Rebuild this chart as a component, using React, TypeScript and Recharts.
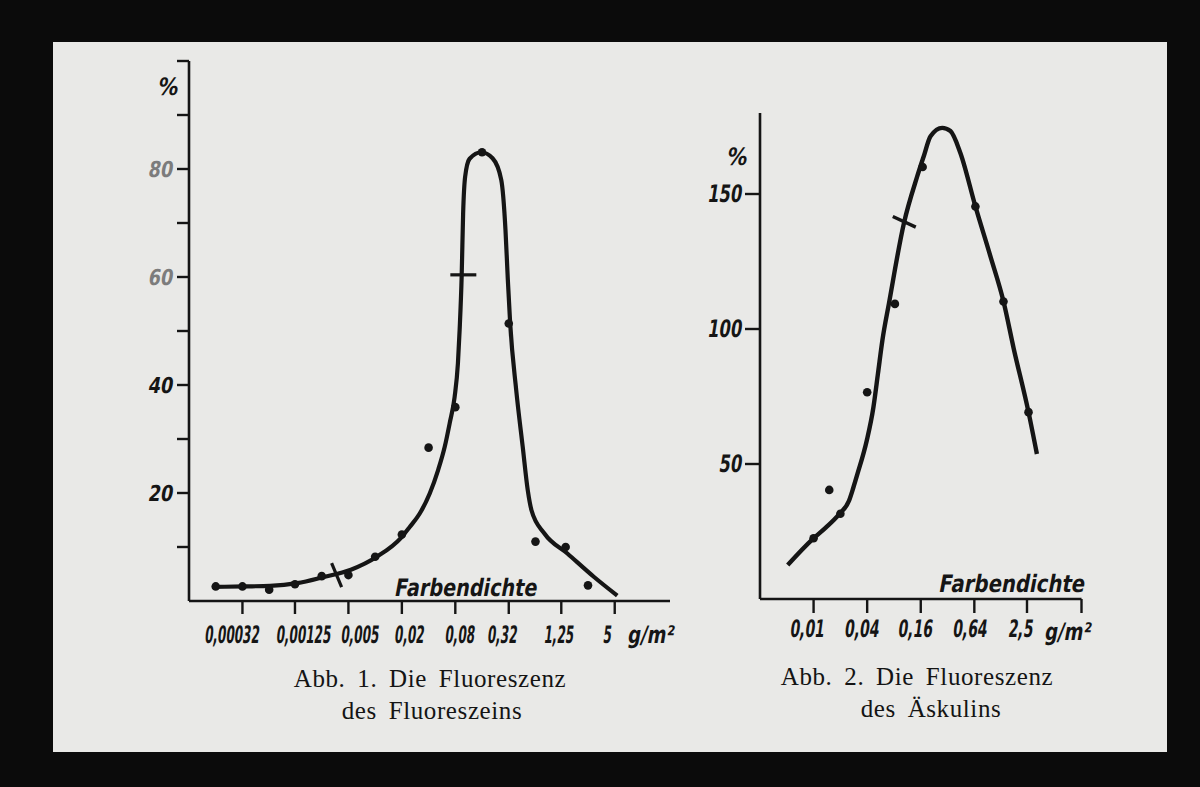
import React from "react";
import { ComposedChart, Line, Scatter, XAxis, YAxis } from "recharts";

const INK = "#151515";
const PAPER = "#e9e9e7";
const HAND = "'DejaVu Sans', Verdana, sans-serif";
const SERIF = "'Liberation Serif', 'DejaVu Serif', serif";

// Abb. 1 – Fluoreszein (Farbendichte g/m², Fluoreszenz %)
const fluoXTicks = [0.00032, 0.00125, 0.005, 0.02, 0.08, 0.32, 1.25, 5];
const fluoXLabels = ["0,00032", "0,00125", "0,005", "0,02", "0,08", "0,32", "1,25", "5"];
const fluoYTicks = [10, 20, 30, 40, 50, 60, 70, 80, 90, 100];
const fluoYLabels = ["", "20", "", "40", "", "60", "", "80", "", ""];

const fluoPointC = [0.00016, 0.00032, 0.00064, 0.00125, 0.0025, 0.005, 0.01, 0.02, 0.04, 0.08, 0.16, 0.32, 0.64, 1.4, 2.5];
const fluoPointV = [2.7, 2.7, 2.1, 3.1, 4.6, 4.8, 8.2, 12.3, 28.4, 35.9, 83.1, 51.4, 11.0, 10.0, 2.9];

const fluoCurveC = [0.000146, 0.000334, 0.000655, 0.00132, 0.00258, 0.00533, 0.01045, 0.0198, 0.0245, 0.0318, 0.0412, 0.0511, 0.0607, 0.0691, 0.0786, 0.0856, 0.0895, 0.0944, 0.098, 0.1033, 0.1159, 0.157, 0.2103, 0.2634, 0.294, 0.3124, 0.332, 0.388, 0.46, 0.524, 0.577, 0.807, 1.464, 2.948, 5.34];
const fluoCurveV = [2.6, 2.7, 2.8, 3.3, 4.4, 5.8, 8.2, 11.8, 13.7, 16.2, 19.9, 24.2, 28.5, 32.9, 37.8, 44.0, 50.2, 60.3, 71.8, 78.6, 81.9, 83.1, 82.0, 78.0, 68.7, 59.5, 51.4, 39.1, 28.5, 20.5, 16.8, 12.5, 8.8, 4.4, 1.0];

// marks on the curve
const fluoCrossC = [0.00368];
const fluoCrossV = [4.8];
const fluoDashC = [0.0985];
const fluoDashV = [60.4];

// Abb. 2 – Äskulin
const aesXTicks = [0.01, 0.04, 0.16, 0.64, 2.5, 10.24];
const aesXLabels = ["0,01", "0,04", "0,16", "0,64", "2,5", ""];
const aesYTicks = [50, 100, 150];
const aesYLabels = ["50", "100", "150"];

const aesPointC = [0.01, 0.015, 0.02, 0.04, 0.082, 0.168, 0.658, 1.36, 2.6];
const aesPointV = [22.5, 40.4, 31.6, 76.6, 109.3, 160, 145.4, 110.2, 69.2];

const aesCurveC = [0.00512, 0.0097, 0.0137, 0.0194, 0.025, 0.028, 0.0311, 0.0396, 0.047, 0.0529, 0.0593, 0.0703, 0.1035, 0.146, 0.173, 0.206, 0.279, 0.345, 0.446, 0.658, 0.969, 1.364, 1.766, 2.6, 3.23];
const aesCurveV = [12.6, 22.1, 26.4, 31.4, 36.4, 41.3, 46.3, 58.7, 71.0, 83.5, 95.8, 109.5, 139.2, 156.5, 164, 171.4, 174.5, 173.3, 165.2, 145.4, 127, 110.1, 93, 69.2, 53.7];

const aesDashC = [0.1045];
const aesDashV = [139.7];

const zip = (c: number[], v: number[]) => c.map((x, i) => ({ c: x, v: v[i] }));

function HandText({ x, y, text, size = 24, sx = 0.6, anchor = "middle", fill = INK }: any) {
  return (
    <g transform={`translate(${x},${y}) scale(${sx},1) skewX(-13)`}>
      <text x={0} y={0} textAnchor={anchor} fontFamily={HAND} fontWeight="bold" fontSize={size} fill={fill}>
        {text}
      </text>
    </g>
  );
}

// hand-lettered labels do not sit exactly centred under their ticks
function makeXTick(values: number[], labels: string[], nudge: number[], dy: number, sx: number) {
  return (props: any) => {
    const { x, y, payload } = props;
    const i = values.indexOf(payload.value);
    if (i < 0 || !labels[i]) return <g />;
    return <HandText x={x + (nudge[i] || 0)} y={y + dy} text={labels[i]} sx={sx} />;
  };
}

function makeYTick(values: number[], labels: string[], size: number, sx: number, grey: number) {
  return (props: any) => {
    const { x, y, payload } = props;
    const i = values.indexOf(payload.value);
    if (i < 0 || !labels[i]) return <g />;
    const fill = payload.value >= grey ? "#7c7c7c" : INK;
    return <HandText x={x} y={y + 8} text={labels[i]} size={size} sx={sx} anchor="end" fill={fill} />;
  };
}

const dot = (p: any) => <circle cx={p.cx} cy={p.cy} r={4.3} fill={INK} />;
const crossMark = (p: any) => (
  <line x1={p.cx - 5} y1={p.cy - 12} x2={p.cx + 5} y2={p.cy + 12} stroke={INK} strokeWidth={3.2} />
);
const flatDash = (p: any) => (
  <line x1={p.cx - 13} y1={p.cy} x2={p.cx + 13} y2={p.cy} stroke={INK} strokeWidth={3.2} />
);
const tiltDash = (p: any) => (
  <line x1={p.cx - 11.5} y1={p.cy - 5.3} x2={p.cx + 11.5} y2={p.cy + 5.3} stroke={INK} strokeWidth={3.4} />
);

const axisStyle = { stroke: INK, strokeWidth: 2.6 };
const tickStyle = { stroke: INK, strokeWidth: 2.4 };

function FluoChart() {
  const nudge = [-11, 8, 11, 7, 4, -7, -3, -8];
  return (
    <div style={{ position: "absolute", left: 100, top: 40 }}>
      <ComposedChart width={600} height={640} margin={{ top: 21, right: 30, left: 39, bottom: 29 }}>
        <XAxis
          dataKey="c"
          type="number"
          scale="log"
          domain={[0.00008, 20.97]}
          ticks={fluoXTicks}
          interval={0}
          allowDataOverflow
          height={50}
          tickSize={13}
          axisLine={axisStyle}
          tickLine={tickStyle}
          tick={makeXTick(fluoXTicks, fluoXLabels, nudge, 27, 0.5)}
        />
        <YAxis
          dataKey="v"
          type="number"
          domain={[0, 100]}
          ticks={fluoYTicks}
          interval={0}
          allowDataOverflow
          width={50}
          tickSize={12}
          tickMargin={5}
          axisLine={axisStyle}
          tickLine={tickStyle}
          tick={makeYTick(fluoYTicks, fluoYLabels, 22, 0.8, 60)}
        />
        <Line data={zip(fluoCurveC, fluoCurveV)} dataKey="v" type="monotone" stroke={INK} strokeWidth={4.2} dot={false} isAnimationActive={false} />
        <Scatter data={zip(fluoPointC, fluoPointV)} dataKey="v" shape={dot} isAnimationActive={false} />
        <Scatter data={zip(fluoCrossC, fluoCrossV)} dataKey="v" shape={crossMark} isAnimationActive={false} />
        <Scatter data={zip(fluoDashC, fluoDashV)} dataKey="v" shape={flatDash} isAnimationActive={false} />
      </ComposedChart>
    </div>
  );
}

function AesChart() {
  const nudge = [-7, -6, -6, -5, -7, 0];
  return (
    <div style={{ position: "absolute", left: 680, top: 60 }}>
      <ComposedChart width={480} height={620} margin={{ top: 53, right: 78.5, left: 30, bottom: 31 }}>
        <XAxis
          dataKey="c"
          type="number"
          scale="log"
          domain={[0.0025, 10.24]}
          ticks={aesXTicks}
          interval={0}
          allowDataOverflow
          height={50}
          tickSize={14}
          axisLine={axisStyle}
          tickLine={tickStyle}
          tick={makeXTick(aesXTicks, aesXLabels, nudge, 22, 0.58)}
        />
        <YAxis
          dataKey="v"
          type="number"
          domain={[0, 180]}
          ticks={aesYTicks}
          interval={0}
          allowDataOverflow
          width={50}
          tickSize={15}
          tickMargin={4}
          axisLine={axisStyle}
          tickLine={tickStyle}
          tick={makeYTick(aesYTicks, aesYLabels, 24, 0.68, 999)}
        />
        <Line data={zip(aesCurveC, aesCurveV)} dataKey="v" type="monotone" stroke={INK} strokeWidth={4.4} dot={false} isAnimationActive={false} />
        <Scatter data={zip(aesPointC, aesPointV)} dataKey="v" shape={dot} isAnimationActive={false} />
        <Scatter data={zip(aesDashC, aesDashV)} dataKey="v" shape={tiltDash} isAnimationActive={false} />
      </ComposedChart>
    </div>
  );
}

export default function App() {
  return (
    <div style={{ position: "absolute", left: 0, top: 0, width: 1200, height: 787, background: "#0b0b0b", overflow: "hidden" }}>
      <div style={{ position: "absolute", left: 53, top: 42, width: 1114, height: 710, background: PAPER }} />
      <FluoChart />
      <AesChart />
      <svg width={1200} height={787} style={{ position: "absolute", left: 0, top: 0, pointerEvents: "none" }}>
        <HandText x={167} y={95} text="%" size={24} sx={0.85} />
        <HandText x={465} y={596} text="Farbendichte" size={24} sx={0.8} />
        <HandText x={650} y={643} text="g/m²" size={24} sx={0.75} />
        <HandText x={736} y={165} text="%" size={24} sx={0.85} />
        <HandText x={1011} y={592} text="Farbendichte" size={24} sx={0.82} />
        <HandText x={1067} y={640} text="g/m²" size={24} sx={0.75} />
        <g fontFamily={SERIF} fill="#141414" fontSize={25} letterSpacing={0.6} textAnchor="middle">
          <text x={430} y={687} wordSpacing={5}>Abb. 1.  Die Fluoreszenz</text>
          <text x={432} y={719} wordSpacing={5}>des Fluoreszeins</text>
          <text x={917} y={685} wordSpacing={5}>Abb. 2.  Die Fluoreszenz</text>
          <text x={931} y={717} wordSpacing={5}>des Äskulins</text>
        </g>
      </svg>
    </div>
  );
}
